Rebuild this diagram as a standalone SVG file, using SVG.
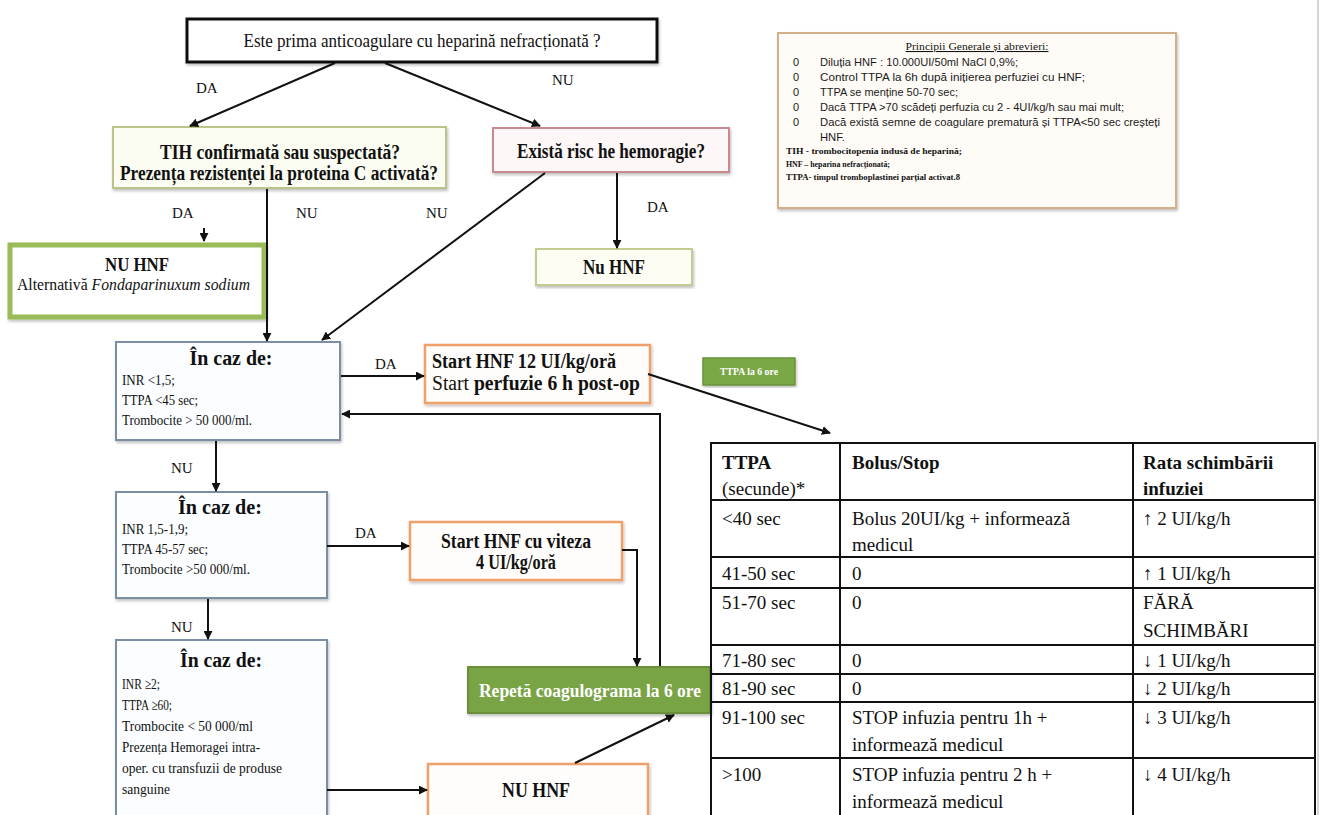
<svg xmlns="http://www.w3.org/2000/svg" width="1322" height="815" viewBox="0 0 1322 815">
<defs>
<style>
.t{font-family:"Liberation Serif","Times New Roman",serif;fill:#111}
.b{font-weight:bold}
.s15{font-size:15px}
.s17{font-size:18px}
.s18{font-size:20px}
.tb{font-family:"Liberation Serif","Times New Roman",serif;font-size:19px;fill:#111}
.sans{font-family:"Liberation Sans",Arial,sans-serif;font-size:11px;fill:#1a1a1a}
.lab{font-family:"Liberation Serif","Times New Roman",serif;font-size:15px;fill:#111}
.ln{stroke:#111;stroke-width:2;fill:none}
.blue{fill:#fbfdff;stroke:#7a8ea6;stroke-width:2}
.orange{fill:#fffdfb;stroke:#f0a06a;stroke-width:2.5}
.grid{stroke:#111;stroke-width:2;fill:none}
</style>
<marker id="ah" viewBox="0 0 10 10" refX="9" refY="5" markerWidth="9" markerHeight="9" markerUnits="userSpaceOnUse" orient="auto">
<path d="M0,0 L10,5 L0,10 z" fill="#111"/>
</marker>
<filter id="sh" x="-5%" y="-5%" width="110%" height="115%">
<feDropShadow dx="1" dy="2" stdDeviation="1.5" flood-color="#000" flood-opacity="0.25"/>
</filter>
</defs>
<rect width="1322" height="815" fill="#fff"/>
<line x1="1318" y1="0" x2="1318" y2="815" stroke="#c8c8c8" stroke-width="1.5"/>

<g id="n-start">
<rect x="187" y="19" width="470" height="43" fill="#fff" stroke="#111" stroke-width="3" filter="url(#sh)"/>
<text class="t s17" x="422" y="47" text-anchor="middle" textLength="357" lengthAdjust="spacingAndGlyphs">Este prima anticoagulare cu heparină nefracționată ?</text>
</g>

<g id="n-tih">
<rect x="113" y="127" width="333" height="61" fill="#fcfdf2" stroke="#bcc48a" stroke-width="2" filter="url(#sh)"/>
<text class="t s18 b" x="280" y="159" text-anchor="middle" textLength="240" lengthAdjust="spacingAndGlyphs">TIH confirmată sau suspectată?</text>
<text class="t s18 b" x="279" y="180" text-anchor="middle" textLength="318" lengthAdjust="spacingAndGlyphs">Prezența rezistenței la proteina C activată?</text>
</g>

<g id="n-risc">
<rect x="493" y="128" width="236" height="44" fill="#fdf7f7" stroke="#c98a8f" stroke-width="2" filter="url(#sh)"/>
<text class="t s18 b" x="611" y="158" text-anchor="middle" textLength="188" lengthAdjust="spacingAndGlyphs">Există risc he hemoragie?</text>
</g>

<g id="n-nuhnf-right">
<rect x="536" y="249" width="156" height="36" fill="#fdfdf4" stroke="#c4cb92" stroke-width="2" filter="url(#sh)"/>
<text class="t s18 b" x="614" y="274" text-anchor="middle" textLength="62" lengthAdjust="spacingAndGlyphs">Nu HNF</text>
</g>

<g id="n-nuhnf-left">
<rect x="10" y="245" width="254" height="72" fill="#fff" stroke="#9bbb59" stroke-width="5" filter="url(#sh)"/>
<text class="t s17 b" x="137" y="271" text-anchor="middle" textLength="64" lengthAdjust="spacingAndGlyphs">NU HNF</text>
<text class="t" font-size="17" x="17" y="290" textLength="233" lengthAdjust="spacingAndGlyphs">Alternativă <tspan font-style="italic">Fondaparinuxum sodium</tspan></text>
</g>

<g id="n-caz1">
<rect class="blue" x="116" y="342" width="224" height="98" filter="url(#sh)"/>
<text class="t s18 b" x="231" y="365" text-anchor="middle" textLength="83" lengthAdjust="spacingAndGlyphs">În caz de:</text>
<text class="t s15" x="122" y="385" textLength="53" lengthAdjust="spacingAndGlyphs">INR &lt;1,5;</text>
<text class="t s15" x="122" y="405" textLength="76" lengthAdjust="spacingAndGlyphs">TTPA &lt;45 sec;</text>
<text class="t s15" x="122" y="425" textLength="130" lengthAdjust="spacingAndGlyphs">Trombocite &gt; 50 000/ml.</text>
</g>

<g id="n-start12">
<rect class="orange" x="425" y="345" width="225" height="58" filter="url(#sh)"/>
<text class="t s18 b" x="432" y="368" textLength="184" lengthAdjust="spacingAndGlyphs">Start HNF 12 UI/kg/oră</text>
<text class="t s18" x="432" y="390" textLength="208" lengthAdjust="spacingAndGlyphs">Start <tspan font-weight="bold">perfuzie 6 h post-op</tspan></text>
</g>

<g id="n-ttpa6">
<rect x="703" y="358" width="92" height="27" fill="#7aa847" stroke="#6a923b" stroke-width="1.5" filter="url(#sh)"/>
<text class="t b" font-size="10.5" style="fill:#fff" x="749" y="375" text-anchor="middle" textLength="58" lengthAdjust="spacingAndGlyphs">TTPA la 6 ore</text>
</g>

<g id="n-caz2">
<rect class="blue" x="116" y="492" width="211" height="106" filter="url(#sh)"/>
<text class="t s18 b" x="220" y="514" text-anchor="middle" textLength="84" lengthAdjust="spacingAndGlyphs">În caz de:</text>
<text class="t s15" x="122" y="534" textLength="66" lengthAdjust="spacingAndGlyphs">INR 1,5-1,9;</text>
<text class="t s15" x="122" y="554" textLength="86" lengthAdjust="spacingAndGlyphs">TTPA 45-57 sec;</text>
<text class="t s15" x="122" y="574" textLength="128" lengthAdjust="spacingAndGlyphs">Trombocite &gt;50 000/ml.</text>
</g>

<g id="n-start4">
<rect class="orange" x="410" y="522" width="212" height="58" filter="url(#sh)"/>
<text class="t s18 b" x="516" y="548" text-anchor="middle" textLength="150" lengthAdjust="spacingAndGlyphs">Start HNF cu viteza</text>
<text class="t s18 b" x="516" y="569" text-anchor="middle" textLength="80" lengthAdjust="spacingAndGlyphs">4 UI/kg/oră</text>
</g>

<g id="n-caz3">
<rect class="blue" x="116" y="640" width="211" height="190" filter="url(#sh)"/>
<text class="t s18 b" x="221" y="667" text-anchor="middle" textLength="82" lengthAdjust="spacingAndGlyphs">În caz de:</text>
<text class="t s15" x="122" y="689" textLength="38" lengthAdjust="spacingAndGlyphs">INR ≥2;</text>
<text class="t s15" x="122" y="710" textLength="50" lengthAdjust="spacingAndGlyphs">TTPA ≥60;</text>
<text class="t s15" x="122" y="731" textLength="131" lengthAdjust="spacingAndGlyphs">Trombocite &lt; 50 000/ml</text>
<text class="t s15" x="122" y="752" textLength="138" lengthAdjust="spacingAndGlyphs">Prezența Hemoragei intra-</text>
<text class="t s15" x="122" y="773" textLength="160" lengthAdjust="spacingAndGlyphs">oper. cu transfuzii de produse</text>
<text class="t s15" x="122" y="794" textLength="48" lengthAdjust="spacingAndGlyphs">sanguine</text>
</g>

<g id="n-nuhnf-bottom">
<rect class="orange" x="428" y="764" width="220" height="60" filter="url(#sh)"/>
<text class="t s18 b" x="536" y="797" text-anchor="middle" textLength="68" lengthAdjust="spacingAndGlyphs">NU HNF</text>
</g>

<g id="n-repeta">
<rect x="468" y="667" width="242" height="46" fill="#79a445" stroke="#6a8f3b" stroke-width="2" filter="url(#sh)"/>
<text class="t b" font-size="18" style="fill:#fff" x="590" y="697" text-anchor="middle" textLength="222" lengthAdjust="spacingAndGlyphs">Repetă coagulograma la 6 ore</text>
</g>

<g id="n-principii">
<rect x="778" y="33" width="398" height="175" fill="#fffcf7" stroke="#d2b08c" stroke-width="2" filter="url(#sh)"/>
<text class="t" font-size="10.5" x="977" y="50" text-anchor="middle" text-decoration="underline" textLength="143" lengthAdjust="spacingAndGlyphs">Principii Generale și abrevieri:</text>
<text class="sans" x="793" y="66">0</text>
<text class="sans" x="820" y="66" textLength="198" lengthAdjust="spacingAndGlyphs">Diluția HNF : 10.000UI/50ml NaCl 0,9%;</text>
<text class="sans" x="793" y="81">0</text>
<text class="sans" x="820" y="81" textLength="265" lengthAdjust="spacingAndGlyphs">Control TTPA la 6h după inițierea perfuziei cu HNF;</text>
<text class="sans" x="793" y="96">0</text>
<text class="sans" x="820" y="96" textLength="138" lengthAdjust="spacingAndGlyphs">TTPA se menține 50-70 sec;</text>
<text class="sans" x="793" y="111">0</text>
<text class="sans" x="820" y="111" textLength="304" lengthAdjust="spacingAndGlyphs">Dacă TTPA &gt;70 scădeți perfuzia cu 2 - 4UI/kg/h sau mai mult;</text>
<text class="sans" x="793" y="126">0</text>
<text class="sans" x="820" y="126" textLength="340" lengthAdjust="spacingAndGlyphs">Dacă există semne de coagulare prematură și TTPA&lt;50 sec creșteți</text>
<text class="sans" x="820" y="141" textLength="25" lengthAdjust="spacingAndGlyphs">HNF.</text>
<text class="t b" font-size="8.5" x="786" y="154" textLength="176" lengthAdjust="spacingAndGlyphs">TIH - trombocitopenia indusă de heparină;</text>
<text class="t b" font-size="8.5" x="786" y="167" textLength="104" lengthAdjust="spacingAndGlyphs">HNF – heparina nefracționată;</text>
<text class="t b" font-size="8.5" x="786" y="180" textLength="174" lengthAdjust="spacingAndGlyphs">TTPA- timpul tromboplastinei parțial activat.8</text>
</g>

<g id="n-table">
<line class="grid" x1="710" y1="443" x2="1316" y2="443"/>
<line class="grid" x1="710" y1="500" x2="1316" y2="500"/>
<line class="grid" x1="710" y1="557" x2="1316" y2="557"/>
<line class="grid" x1="710" y1="588" x2="1316" y2="588"/>
<line class="grid" x1="710" y1="645" x2="1316" y2="645"/>
<line class="grid" x1="710" y1="674" x2="1316" y2="674"/>
<line class="grid" x1="710" y1="702" x2="1316" y2="702"/>
<line class="grid" x1="710" y1="758" x2="1316" y2="758"/>
<line class="grid" x1="711" y1="443" x2="711" y2="815"/>
<line class="grid" x1="840" y1="443" x2="840" y2="815"/>
<line class="grid" x1="1133" y1="443" x2="1133" y2="815"/>
<line class="grid" x1="1315" y1="443" x2="1315" y2="815"/>
<text class="tb b" x="722" y="469">TTPA</text>
<text class="tb" x="722" y="495">(secunde)*</text>
<text class="tb b" x="852" y="469">Bolus/Stop</text>
<text class="tb b" x="1143" y="469">Rata schimbării</text>
<text class="tb b" x="1143" y="495">infuziei</text>
<text class="tb" x="722" y="525">&lt;40 sec</text>
<text class="tb" x="852" y="525">Bolus 20UI/kg + informează</text>
<text class="tb" x="852" y="551">medicul</text>
<text class="tb" x="1143" y="525">↑ 2 UI/kg/h</text>
<text class="tb" x="722" y="580">41-50 sec</text>
<text class="tb" x="852" y="580">0</text>
<text class="tb" x="1143" y="580">↑ 1 UI/kg/h</text>
<text class="tb" x="722" y="609">51-70 sec</text>
<text class="tb" x="852" y="609">0</text>
<text class="tb" x="1143" y="609">FĂRĂ</text>
<text class="tb" x="1143" y="637">SCHIMBĂRI</text>
<text class="tb" x="722" y="667">71-80 sec</text>
<text class="tb" x="852" y="667">0</text>
<text class="tb" x="1143" y="667">↓ 1 UI/kg/h</text>
<text class="tb" x="722" y="695">81-90 sec</text>
<text class="tb" x="852" y="695">0</text>
<text class="tb" x="1143" y="695">↓ 2 UI/kg/h</text>
<text class="tb" x="722" y="724">91-100 sec</text>
<text class="tb" x="852" y="724">STOP infuzia pentru 1h +</text>
<text class="tb" x="852" y="751">informează medicul</text>
<text class="tb" x="1143" y="724">↓ 3 UI/kg/h</text>
<text class="tb" x="722" y="781">&gt;100</text>
<text class="tb" x="852" y="781">STOP infuzia pentru 2 h +</text>
<text class="tb" x="852" y="808">informează medicul</text>
<text class="tb" x="1143" y="781">↓ 4 UI/kg/h</text>
</g>

<g id="connectors">
<line class="ln" x1="335" y1="63" x2="190" y2="126" marker-end="url(#ah)"/>
<line class="ln" x1="385" y1="63" x2="540" y2="126" marker-end="url(#ah)"/>
<line class="ln" x1="204" y1="228" x2="204" y2="241" stroke-width="1.5" marker-end="url(#ah)"/>
<line class="ln" x1="267" y1="189" x2="267" y2="341" stroke-width="1.5" marker-end="url(#ah)"/>
<line class="ln" x1="545" y1="173" x2="322" y2="340" marker-end="url(#ah)"/>
<line class="ln" x1="617" y1="173" x2="617" y2="248" stroke-width="1.5" marker-end="url(#ah)"/>
<line class="ln" x1="341" y1="376" x2="424" y2="376" marker-end="url(#ah)"/>
<line class="ln" x1="648" y1="374" x2="830" y2="433" marker-end="url(#ah)"/>
<polyline class="ln" points="660,666 660,414 342,414" marker-end="url(#ah)"/>
<line class="ln" x1="216" y1="441" x2="216" y2="491" marker-end="url(#ah)"/>
<line class="ln" x1="327" y1="546" x2="409" y2="546" marker-end="url(#ah)"/>
<polyline class="ln" points="622,550 637,550 637,666" marker-end="url(#ah)"/>
<line class="ln" x1="208" y1="599" x2="208" y2="639" marker-end="url(#ah)"/>
<line class="ln" x1="327" y1="790" x2="427" y2="790" marker-end="url(#ah)"/>
<line class="ln" x1="575" y1="763" x2="674" y2="715" marker-end="url(#ah)"/>
<text class="lab" x="196" y="93">DA</text>
<text class="lab" x="552" y="85">NU</text>
<text class="lab" x="172" y="218">DA</text>
<text class="lab" x="296" y="218">NU</text>
<text class="lab" x="426" y="218">NU</text>
<text class="lab" x="647" y="212">DA</text>
<text class="lab" x="375" y="369">DA</text>
<text class="lab" x="171" y="473">NU</text>
<text class="lab" x="355" y="538">DA</text>
<text class="lab" x="171" y="632">NU</text>
</g>
</svg>
